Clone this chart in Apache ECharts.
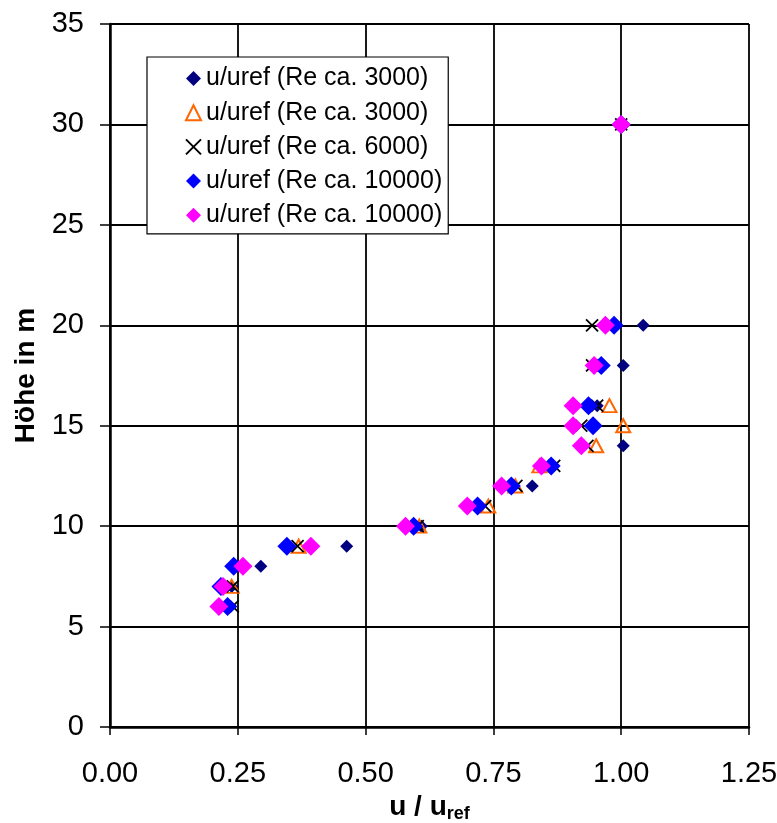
<!DOCTYPE html>
<html>
<head>
<meta charset="utf-8">
<script src="https://cdn.jsdelivr.net/npm/echarts@6/dist/echarts.min.js"></script>
<style>html,body{margin:0;padding:0;background:#fff;}#c{width:777px;height:823px;}</style>
</head>
<body>
<div id="c"></div>
<script>
const heights = [6, 7, 8, 9, 10, 11, 12, 13, 14, 15, 16, 18, 20, 30];
const re3000a = [0.236, 0.238, 0.295, 0.463, 0.609, 0.720, 0.826, 0.862, 1.004, 0.945, 0.953, 1.004, 1.043, 1.0];
const re3000b = [null, 0.238, null, 0.369, 0.605, 0.740, 0.793, 0.840, 0.951, 1.004, 0.977, null, null, null];
const re6000 = [0.240, 0.240, null, 0.367, 0.602, 0.734, 0.795, 0.869, 0.934, 0.922, 0.953, 0.943, 0.943, 1.0];
const re10000a = [0.230, 0.217, 0.242, 0.346, 0.594, 0.719, 0.785, 0.863, null, 0.945, 0.936, 0.961, 0.986, 1.0];
const re10000b = [0.213, 0.221, 0.260, 0.393, 0.578, 0.699, 0.766, 0.844, 0.922, 0.906, 0.906, 0.947, 0.969, 1.0];
const seriesNames = ['u/uref (Re ca. 3000)', 'u/uref (Re ca. 3000) ', 'u/uref (Re ca. 6000)', 'u/uref (Re ca. 10000)', 'u/uref (Re ca. 10000) '];
const xTicks = [0, 0.25, 0.5, 0.75, 1.0, 1.25];

function pairs(vals) {
  const out = [];
  vals.forEach((v, i) => { if (v !== null) out.push([v, heights[i]]); });
  return out;
}

const FONT = 'Liberation Sans, Arial, sans-serif';
const chart = echarts.init(document.getElementById('c'), null, {renderer: 'canvas'});
const xPath = 'path://M0,0L10,10M10,0L0,10';

chart.setOption({
  animation: false,
  backgroundColor: '#fff',
  textStyle: {fontFamily: FONT},
  grid: {left: 110, right: 28, top: 24, bottom: 96, containLabel: false, outerBoundsMode: 'none'},
  legend: {
    orient: 'vertical',
    left: 147, top: 57,
    padding: [9, 6, 6, 38],
    borderColor: '#000', borderWidth: 1.2,
    backgroundColor: '#fff',
    itemWidth: 15, itemHeight: 15,
    itemGap: 9.2,
    textStyle: {fontSize: 25, color: '#000', fontFamily: FONT, lineHeight: 25},
    formatter: n => n.trim(),
    data: seriesNames
  },
  xAxis: {
    type: 'value', min: 0, max: 1.25, interval: 0.25,
    axisLine: {show: true, onZero: false, lineStyle: {color: '#000', width: 2.5}},
    axisTick: {show: true, inside: false, length: 8, lineStyle: {color: '#000', width: 1.5}},
    splitLine: {show: true, lineStyle: {color: '#000', width: 1.8}},
    axisLabel: {fontSize: 29, color: '#000', margin: 32, fontFamily: FONT,
      formatter: v => v.toFixed(2)},
    name: '{a|u / u}{b|ref}',
    nameLocation: 'middle', nameGap: 62,
    nameTextStyle: {
      rich: {
        a: {fontSize: 28, fontWeight: 'bold', color: '#000', fontFamily: FONT},
        b: {fontSize: 18, fontWeight: 'bold', color: '#000', fontFamily: FONT, padding: [14, 0, 0, 0]}
      }
    }
  },
  yAxis: {
    type: 'value', min: 0, max: 35, interval: 5,
    axisLine: {show: true, onZero: false, lineStyle: {color: '#000', width: 2.5}},
    axisTick: {show: true, inside: false, length: 10, lineStyle: {color: '#000', width: 1.5}},
    splitLine: {show: true, lineStyle: {color: '#000', width: 1.8}},
    axisLabel: {fontSize: 29, color: '#000', margin: 26, fontFamily: FONT},
    name: 'Höhe in m',
    nameLocation: 'middle', nameGap: 70,
    nameTextStyle: {fontSize: 28, fontWeight: 'bold', color: '#000', fontFamily: FONT}
  },
  series: [
    {name: seriesNames[0], type: 'scatter', symbol: 'diamond', symbolSize: 13,
      itemStyle: {color: '#000080', opacity: 1}, data: pairs(re3000a), z: 2},
    {name: seriesNames[1], type: 'scatter', symbol: 'triangle', symbolSize: [14, 13],
      itemStyle: {color: 'rgba(255,255,255,0)', borderColor: '#FF6600', borderWidth: 2, opacity: 1}, data: pairs(re3000b), z: 3},
    {name: seriesNames[2], type: 'scatter', symbol: xPath, symbolSize: 12,
      itemStyle: {color: 'rgba(0,0,0,0)', borderColor: '#000', borderWidth: 1.8, opacity: 1}, data: pairs(re6000), z: 4},
    {name: seriesNames[3], type: 'scatter', symbol: 'diamond', symbolSize: 19,
      itemStyle: {color: '#0000FF', opacity: 1}, data: pairs(re10000a), z: 5},
    {name: seriesNames[4], type: 'scatter', symbol: 'diamond', symbolSize: 19,
      itemStyle: {color: '#FF00FF', opacity: 1}, data: pairs(re10000b), z: 6}
  ]
});
</script>
</body>
</html>
